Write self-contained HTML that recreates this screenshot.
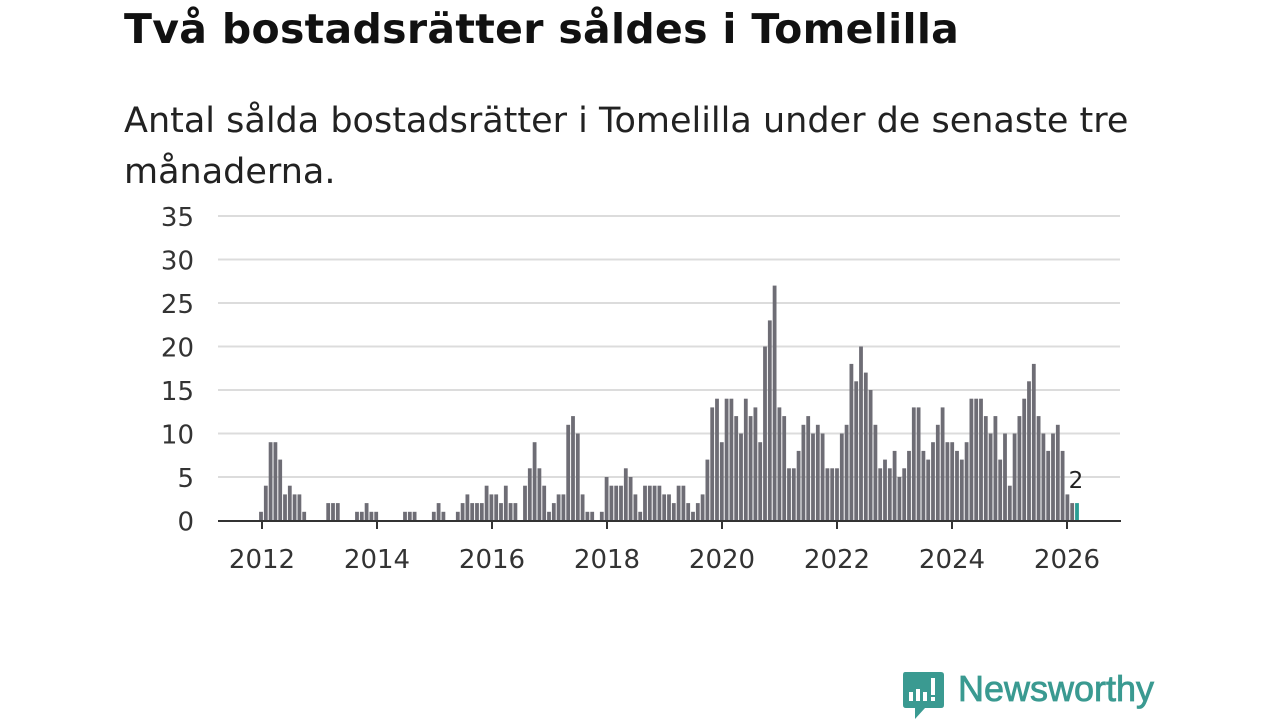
<!DOCTYPE html>
<html><head><meta charset="utf-8">
<style>
body{margin:0;width:1280px;height:720px;background:#fff;overflow:hidden;font-family:"DejaVu Sans","Liberation Sans",sans-serif;}
#title{position:absolute;left:124px;top:5px;font-size:41px;font-weight:bold;color:#111;margin:0;letter-spacing:0.3px}
#sub{position:absolute;left:124px;top:96px;font-size:35px;color:#222;line-height:51px;width:1100px}
svg{position:absolute;left:0;top:0}
</style></head><body>
<h1 id="title">Två bostadsrätter såldes i Tomelilla</h1>
<div id="sub">Antal sålda bostadsrätter i Tomelilla under de senaste tre<br>månaderna.</div>
<svg id="chart" width="1280" height="720"></svg>
<script>
const values=[1,4,9,9,7,3,4,3,3,1,0,0,
0,0,2,2,2,0,0,0,1,1,2,1,
1,0,0,0,0,0,1,1,1,0,0,0,
1,2,1,0,0,1,2,3,2,2,2,4,
3,3,2,4,2,2,0,4,6,9,6,4,
1,2,3,3,11,12,10,3,1,1,0,1,
5,4,4,4,6,5,3,1,4,4,4,4,
3,3,2,4,4,2,1,2,3,7,13,14,
9,14,14,12,10,14,12,13,9,20,23,27,
13,12,6,6,8,11,12,10,11,10,6,6,
6,10,11,18,16,20,17,15,11,6,7,6,
8,5,6,8,13,13,8,7,9,11,13,9,
9,8,7,9,14,14,14,12,10,12,7,10,
4,10,12,14,16,18,12,10,8,10,11,8,
3,2,2];
const yTicks=[0,5,10,15,20,25,30,35];
const xYears=[2012,2014,2016,2018,2020,2022,2024,2026];
const NS="http://www.w3.org/2000/svg";
const svg=document.getElementById('chart');
const y=v=>520.5-v*8.7;
const xm=i=>261+i*4.8;
const xy=yr=>262+(yr-2012)*57.5;
function mk(t,a){const e=document.createElementNS(NS,t);for(const k in a)e.setAttribute(k,a[k]);svg.appendChild(e);return e;}
yTicks.forEach(t=>{
 if(t>0){const g=mk('line',{x1:218,x2:1120,y1:y(t),y2:y(t),stroke:'#dcdcdc','stroke-width':2});
 
 }
 const l=mk('text',{x:194,y:y(t)+10,'text-anchor':'end','font-size':26,fill:'#333'});
 l.textContent=t;
 
 
});
values.forEach((v,i)=>{
 const last=i===values.length-1;
 const r=mk('rect',{x:xm(i)-1.9,y:y(v),width:3.8,height:520.5-y(v),fill:last?'#2a9d94':'#6e6d75'});
 
 
});
const ax=mk('line',{x1:218,x2:1121,y1:521,y2:521,stroke:'#333','stroke-width':2});


xYears.forEach(yr=>{
 const tk=mk('line',{x1:xy(yr),x2:xy(yr),y1:521,y2:529,stroke:'#333','stroke-width':2});
 
 
 const l=mk('text',{x:xy(yr),y:568,'text-anchor':'middle','font-size':26,fill:'#333'});
 l.textContent=yr;
 
 
});
const li=values.length-1;
const lab=mk('text',{x:xm(li)-1,y:488,'text-anchor':'middle','font-size':23,fill:'#222'});
lab.textContent=values[li];


</script>
<div style="position:absolute;left:903px;top:672px;width:320px;height:48px">
<svg width="42" height="48" style="position:absolute;left:0;top:0">
<path d="M2 0 H38 Q41 0 41 3 V33 Q41 36 38 36 H22 L12 47 V36 H3 Q0 36 0 33 V3 Q0 0 2 0Z" fill="#3a9a91"/>
<rect x="6" y="20" width="4" height="9" fill="#fff"/><rect x="13" y="17" width="4" height="12" fill="#fff"/><rect x="20" y="20" width="4" height="9" fill="#fff"/><rect x="28" y="6" width="4" height="17" fill="#fff"/><rect x="28" y="25" width="4" height="4" fill="#fff"/>
</svg>
<span style="position:absolute;left:55px;top:-4px;font-size:36px;color:#3a9a91;font-family:'Liberation Sans',sans-serif;-webkit-text-stroke:0.8px #3a9a91">Newsworthy</span>
</div>
</body></html>
